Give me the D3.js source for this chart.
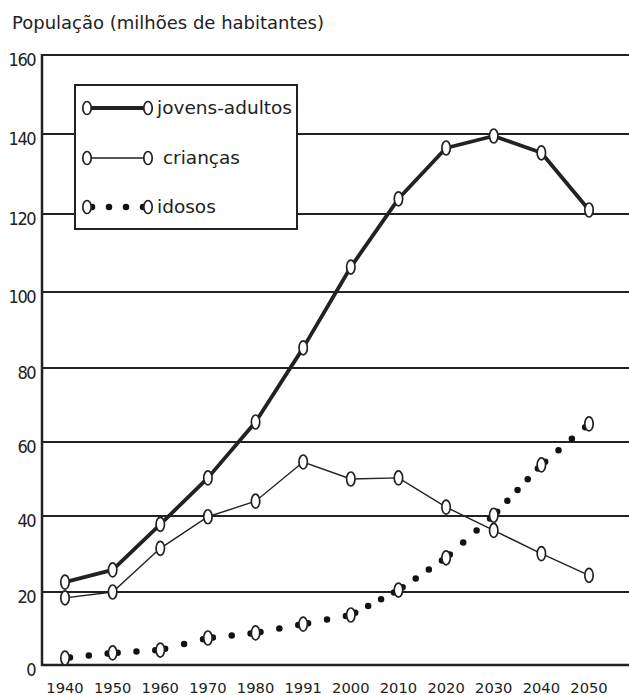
<!DOCTYPE html>
<html>
<head>
<meta charset="utf-8">
<script src="https://cdn.jsdelivr.net/npm/d3@7"></script>
<style>
  body { margin: 0; background: #fff; }
  svg text { font-family: "DejaVu Sans", Verdana, sans-serif; fill: #222; }
</style>
</head>
<body>
<svg id="chart" width="629" height="695"></svg>
<script>
// values (milhões de habitantes)
var years = ['1940', '1950', '1960', '1970', '1980', '1991', '2000', '2010', '2020', '2030', '2040', '2050'];
var jovens = [22.6, 25.8, 37.8, 50.3, 65.4, 85.3, 106.4, 123.8, 136.5, 139.5, 135.3, 121];
var criancas = [18.4, 20, 31.5, 39.8, 44, 54.6, 50, 50.3, 42.4, 36.2, 30.1, 24.4];
var idosos = [1.9, 3.3, 4.1, 7.4, 8.8, 11.2, 13.7, 20.5, 29, 40.2, 53.8, 64.9];
var yTicks = [0, 20, 40, 60, 80, 100, 120, 140, 160];
var seriesNames = ['jovens-adultos', ' crianças', 'idosos'];

var svg = d3.select('#chart');
var ink = '#222';

var x = d3.scalePoint().domain(years).range([65, 589]);
// the scanned grid is a little uneven, so the scale follows each gridline
var y = d3.scaleLinear()
    .domain(yTicks)
    .range([665, 592, 516, 442, 368, 292, 214, 134, 55]);

// title
svg.append('text')
    .attr('x', 12).attr('y', 29)
    .style('font-size', '18px')
    .text('População (milhões de habitantes)');

// gridlines
svg.append('g').selectAll('line')
    .data(yTicks.slice(1))
  .enter().append('line')
    .attr('x1', 42).attr('x2', 629)
    .attr('y1', function(d) { return y(d); })
    .attr('y2', function(d) { return y(d); })
    .attr('stroke', ink).attr('stroke-width', 2);

// axes
svg.append('line')
    .attr('x1', 42).attr('x2', 42)
    .attr('y1', y(160) - 1).attr('y2', y(0) + 1)
    .attr('stroke', ink).attr('stroke-width', 2.5);
svg.append('line')
    .attr('x1', 41).attr('x2', 629)
    .attr('y1', y(0)).attr('y2', y(0))
    .attr('stroke', ink).attr('stroke-width', 2.5);

// y tick labels
svg.append('g').selectAll('text')
    .data(yTicks)
  .enter().append('text')
    .attr('x', 35)
    .attr('y', function(d) { return y(d) + 5; })
    .attr('dy', '0.36em')
    .attr('text-anchor', 'end')
    .style('font-family', '"DejaVu Sans Condensed", "DejaVu Sans", sans-serif')
    .style('font-size', '18px')
    .style('letter-spacing', '-1.5px')
    .text(function(d) { return d; });

// x labels
svg.append('g').selectAll('text')
    .data(years)
  .enter().append('text')
    .attr('x', function(d) { return x(d); })
    .attr('y', 693)
    .attr('text-anchor', 'middle')
    .style('font-size', '14.7px')
    .text(function(d) { return d; });

function pts(vals) {
  return vals.map(function(v, i) { return [x(years[i]), y(v)]; });
}
var line = d3.line();

// jovens-adultos
svg.append('path')
    .attr('d', line(pts(jovens)))
    .attr('fill', 'none').attr('stroke', ink)
    .attr('stroke-width', 3.8).attr('stroke-linejoin', 'round');

// crianças
svg.append('path')
    .attr('d', line(pts(criancas)))
    .attr('fill', 'none').attr('stroke', ink)
    .attr('stroke-width', 1.4);

// idosos: dotted, one path per segment so dots sit next to each marker
svg.append('g').selectAll('path')
    .data(d3.pairs(pts(idosos)))
  .enter().append('path')
    .attr('d', function(d) { return line(d); })
    .attr('fill', 'none').attr('stroke', '#111')
    .attr('stroke-width', 6.5).attr('stroke-linecap', 'round')
    .each(function() {
      var L = this.getTotalLength();
      var n = Math.max(1, Math.round((L - 10) / 16));
      d3.select(this)
        .attr('stroke-dasharray', '0 ' + ((L - 10) / n))
        .attr('stroke-dashoffset', -5);
    });

// open markers
function markers(vals) {
  svg.append('g').selectAll('ellipse')
      .data(pts(vals))
    .enter().append('ellipse')
      .attr('cx', function(d) { return d[0]; })
      .attr('cy', function(d) { return d[1]; })
      .attr('rx', 4.2).attr('ry', 7)
      .attr('fill', '#fff').attr('stroke', ink).attr('stroke-width', 1.7);
}
markers(criancas);
markers(jovens);
markers(idosos);

// legend
var lg = svg.append('g');
lg.append('rect')
    .attr('x', 75).attr('y', 85).attr('width', 222).attr('height', 144)
    .attr('fill', '#fff').attr('stroke', ink).attr('stroke-width', 2);

var rows = [108, 158, 207];
seriesNames.forEach(function(name, i) {
  var ry = rows[i];
  var seg = lg.append('line')
      .attr('x1', 87).attr('x2', 148)
      .attr('y1', ry).attr('y2', ry)
      .attr('stroke', ink);
  if (i === 0) seg.attr('stroke-width', 3.8);
  if (i === 1) seg.attr('stroke-width', 1.4);
  if (i === 2) {
    seg.attr('stroke-width', 6.5).attr('stroke-linecap', 'round')
      .attr('stroke', '#111')
      .attr('stroke-dasharray', '0 ' + (51 / 3))
      .attr('stroke-dashoffset', -5);
  }
  [87, 148].forEach(function(cx) {
    lg.append('ellipse')
        .attr('cx', cx).attr('cy', ry)
        .attr('rx', 4.2).attr('ry', 6.5)
        .attr('fill', '#fff').attr('stroke', ink).attr('stroke-width', 1.7);
  });
  lg.append('text')
      .attr('x', 157).attr('y', ry + 6)
      .style('font-size', '18.5px')
      .attr('xml:space', 'preserve')
      .text(name);
});
</script>
</body>
</html>
